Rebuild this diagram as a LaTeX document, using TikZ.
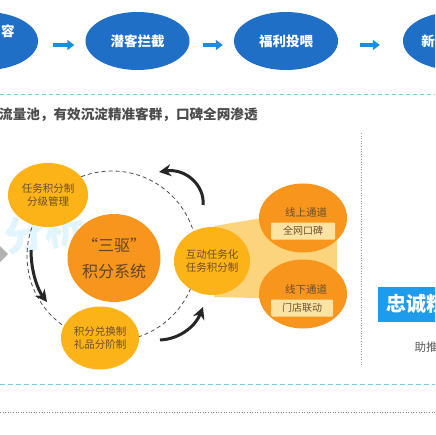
\documentclass[tikz,border=0pt]{standalone}
\usepackage{fontspec}
\setmainfont{Noto Sans CJK SC}
\usetikzlibrary{arrows.meta,positioning,shapes.geometric}
\definecolor{flowblue}{HTML}{1F6FC6}
\definecolor{arrowblue}{HTML}{1A90DA}
\definecolor{lineblue}{HTML}{7CC9E6}
\definecolor{yel}{HTML}{FBB317}
\definecolor{org}{HTML}{F7951C}
\definecolor{band}{HTML}{FDD47E}
\definecolor{tag}{HTML}{FDE3A2}
\definecolor{txt}{HTML}{6B4E2E}
\definecolor{loyal}{HTML}{1E9BEA}

\begin{document}
\begin{tikzpicture}[x=1pt, y=-1pt, >=stealth,
    flow/.style={ellipse, fill=flowblue, text=white, font=\bfseries\fontsize{13.5}{16}\selectfont,
      minimum width=104pt, minimum height=58pt, inner sep=0pt},
    flowarrow/.style={draw=arrowblue, line width=4pt, -{Triangle[length=7pt,width=10pt]}},
    disc/.style={ellipse, fill=yel, text=txt, align=center, inner sep=0pt,
      font=\fontsize{10.5}{13}\selectfont},
    chan/.style={ellipse, fill=org, text=txt, inner sep=0pt,
      minimum width=88pt, minimum height=69pt},
    tagbox/.style={fill=tag, text=txt, rounded corners=1pt, inner sep=0pt,
      minimum width=64pt, minimum height=17pt, font=\fontsize{10}{12}\selectfont},
    curl/.style={line width=3pt, black!85, -{Stealth[length=12pt,width=12pt]}}]
    \useasboundingbox (0,0) rectangle (435,435);
    \clip (0,0) rectangle (435,435);
    \fill[white] (0,0) rectangle (435,435);

    % top flow
    \node[flow] (e1) at (-14,41) {};
    \node[flow] (e2) at (137.5,41) {潜客拦截};
    \node[flow] (e3) at (286,41) {福利投喂};
    \node[flow] (e4) at (455,41) {};
    \node[text=white, font=\bfseries\fontsize{13.5}{16}\selectfont] (t1) at (8,31) {容};
    \node[text=white, font=\bfseries\fontsize{13.5}{16}\selectfont] (t4) at (428,41) {新};
    \draw[flowarrow] ([xshift=15pt,yshift=-4pt]e1.east) -- ([xshift=-11pt,yshift=-4pt]e2.west);
    \draw[flowarrow] ([xshift=13pt,yshift=-4pt]e2.east) -- ([xshift=-11pt,yshift=-4pt]e3.west);
    \draw[flowarrow] ([xshift=22pt,yshift=-4pt]e3.east) -- ([xshift=-23pt,yshift=-4pt]e4.west);

    % separators
    \draw[lineblue, line width=0.9pt, dash pattern=on 4pt off 3pt] (0,94) -- (435,94);
    \draw[lineblue, line width=0.9pt, dash pattern=on 5pt off 3pt] (0,384) -- (435,384);
    \draw[gray, line width=0.6pt, dotted] (0,412) -- (435,412);
    \draw[gray!80, line width=0.6pt, dotted] (361,133) -- (361,365);
    \node[anchor=west, inner sep=0pt, text=black!70, font=\bfseries\fontsize{13.6}{16}\selectfont] (head) at (-1,115)
      {流量池，有效沉淀精准客群，口碑全网渗透};

    % watermark
    \node[text=cyan!12, font=\bfseries\fontsize{40}{40}\selectfont, rotate=8] (mark) at (44,232) {分析};
    \fill[gray!60] (0,246) -- (8,254) -- (0,262) -- cycle;

    % loop
    \draw[black!70, line width=0.8pt, dash pattern=on 4pt off 3pt] (112,256) circle[radius=85pt];
    \fill[band] (214,226) -- (262,218) -- (337,217) -- (337,300) -- (214,297) -- cycle;

    \node[disc, minimum width=80pt, minimum height=64pt] (grade) at (48,195) {任务积分制\\分级管理};
    \node[disc, minimum width=78pt, minimum height=63pt] (gift) at (100,338) {积分兑换制\\礼品分阶制};
    \node[disc, minimum width=76pt, minimum height=68pt] (task) at (212,261) {互动任务化\\任务积分制};
    \node[ellipse, fill=org, text=txt!90!black, align=center, inner sep=0pt,
      minimum width=93pt, minimum height=88pt, font=\fontsize{16}{26}\selectfont] (core) at (114,258) {“三驱”\\积分系统};

    \node[chan] (online) at (303,218) {};
    \node[chan] (offline) at (303,294) {};
    \node[text=txt, font=\fontsize{10.5}{12}\selectfont] (onl) at (306,212) {线上通道};
    \node[tagbox] (onb) at (303,231) {全网口碑};
    \node[text=txt, font=\fontsize{10.5}{12}\selectfont] (offl) at (306,289) {线下通道};
    \node[tagbox, minimum width=62pt] (offb) at (302,308) {门店联动};

    % curly arrows
    \coordinate (c1) at (203,205);
    \coordinate (c2) at (159,172);
    \coordinate (c3) at (31,250);
    \coordinate (c4) at (47,302);
    \coordinate (c5) at (160,340);
    \coordinate (c6) at (203,307);
    \draw[curl] (c1) .. controls (205,186) and (186,168) .. (c2);
    \draw[curl] (c3) .. controls (31,272) and (38,290) .. (c4);
    \draw[curl] (c5) .. controls (181,339) and (196,325) .. (c6);

    % right panel
    \fill[loyal] (378,287) rectangle (445,322);
    \node[anchor=west, text=white, font=\bfseries\fontsize{20}{22}\selectfont] (loy) at (383,304) {忠诚粉丝};
    \node[anchor=west, text=black!65, font=\fontsize{11.5}{13}\selectfont] (push) at (411,347) {助推};
\end{tikzpicture}
\end{document}
